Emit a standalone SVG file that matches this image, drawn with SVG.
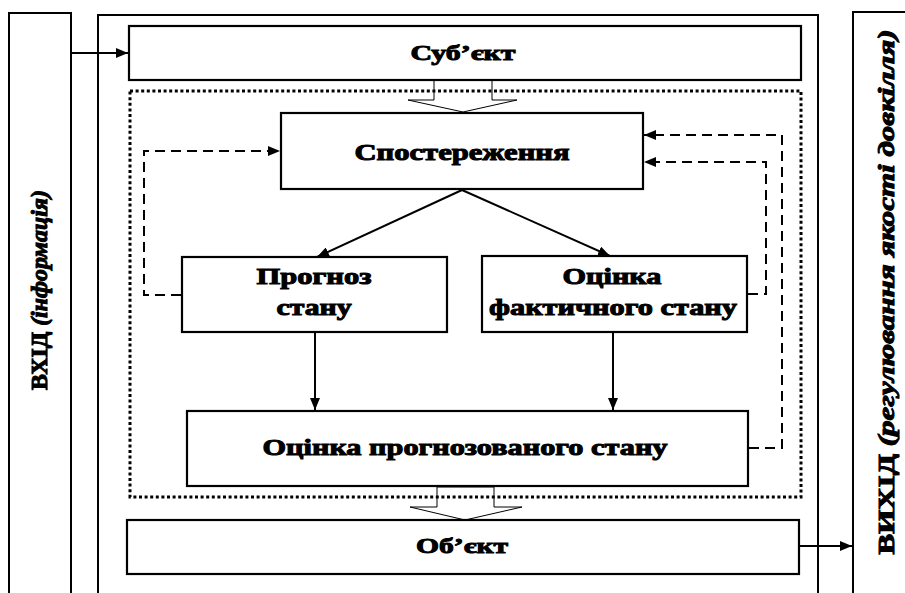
<svg xmlns="http://www.w3.org/2000/svg" width="905" height="593" viewBox="0 0 905 593">
<defs>
<style>
.box{fill:#fff;stroke:#000;stroke-width:2.2}
.frame{fill:none;stroke:#000;stroke-width:2}
.t{font-family:"Liberation Serif","Times New Roman",serif;font-weight:bold;fill:#000;stroke:#000;stroke-width:1;text-anchor:middle}
.it{font-style:italic}
.ln{fill:none;stroke:#000;stroke-width:2}
.dash{fill:none;stroke:#000;stroke-width:2;stroke-dasharray:10 6}
.dot{fill:none;stroke:#000;stroke-width:3;stroke-dasharray:3 2.6}
.hollow{fill:none;stroke:#000;stroke-width:1}
</style>
<marker id="ah" viewBox="0 0 12 10" refX="12" refY="5" markerWidth="12" markerHeight="10" markerUnits="userSpaceOnUse" orient="auto">
<path d="M0,0 L12,5 L0,10 Z" fill="#000"/>
</marker>
</defs>
<rect width="905" height="593" fill="#fff"/>

<g id="input">
<rect class="frame" x="9" y="13" width="62" height="600"/>
<text class="t" font-size="23" transform="translate(47,290) rotate(-90)" textLength="200" lengthAdjust="spacingAndGlyphs">ВХІД <tspan class="it">(інформація)</tspan></text>
</g>

<g id="system">
<rect class="frame" x="98" y="15" width="720" height="600"/>
</g>

<g id="output">
<rect class="frame" x="853" y="12" width="60" height="600"/>
<text class="t" font-size="23" transform="translate(894,292) rotate(-90)" textLength="525" lengthAdjust="spacingAndGlyphs">ВИХІД <tspan class="it">(регулювання якості довкілля)</tspan></text>
</g>

<g id="subject">
<rect class="box" x="129" y="26" width="672" height="54"/>
<text class="t" x="463" y="60" font-size="22" textLength="105" lengthAdjust="spacingAndGlyphs">Суб’єкт</text>
</g>

<g id="monitoring-area">
<rect class="dot" x="130" y="91" width="671" height="406"/>
</g>

<g id="observation">
<rect class="box" x="281" y="113" width="362" height="76"/>
<text class="t" x="462" y="160" font-size="23" textLength="215" lengthAdjust="spacingAndGlyphs">Спостереження</text>
</g>

<g id="forecast">
<rect class="box" x="182" y="257" width="265" height="75"/>
<text class="t" x="314" y="284" font-size="23" textLength="115" lengthAdjust="spacingAndGlyphs">Прогноз</text>
<text class="t" x="314" y="315" font-size="23" textLength="75" lengthAdjust="spacingAndGlyphs">стану</text>
</g>

<g id="actual">
<rect class="box" x="482" y="256" width="265" height="76"/>
<text class="t" x="612" y="284" font-size="23" textLength="99" lengthAdjust="spacingAndGlyphs">Оцінка</text>
<text class="t" x="613" y="315" font-size="23" textLength="248" lengthAdjust="spacingAndGlyphs">фактичного стану</text>
</g>

<g id="predicted">
<rect class="box" x="187" y="411" width="561" height="75"/>
<text class="t" x="465" y="455" font-size="23" textLength="405" lengthAdjust="spacingAndGlyphs">Оцінка прогнозованого стану</text>
</g>

<g id="object">
<rect class="box" x="127" y="520" width="672" height="54"/>
<text class="t" x="462" y="553" font-size="22" textLength="92" lengthAdjust="spacingAndGlyphs">Об’єкт</text>
</g>

<g id="connectors">
<line class="ln" x1="72" y1="53" x2="128" y2="53" marker-end="url(#ah)"/>
<line class="ln" x1="800" y1="546" x2="852" y2="546" marker-end="url(#ah)"/>
<polygon class="hollow" points="434,80 492,80 492,100 517,100 463,112 408,100 434,100"/>
<polygon class="hollow" points="437,487 494,487 494,507 522,507 465,520 410,507 437,507"/>
<line class="ln" x1="462" y1="190" x2="317" y2="257" marker-end="url(#ah)"/>
<line class="ln" x1="462" y1="190" x2="610" y2="256" marker-end="url(#ah)"/>
<line class="ln" x1="315" y1="333" x2="315" y2="410" marker-end="url(#ah)"/>
<line class="ln" x1="613" y1="333" x2="613" y2="410" marker-end="url(#ah)"/>
<polyline class="dash" points="181,295 144,295 144,151 280,151" marker-end="url(#ah)"/>
<polyline class="dash" points="748,294 766,294 766,162 644,162" marker-end="url(#ah)"/>
<polyline class="dash" points="749,448 782,448 782,135 644,135" marker-end="url(#ah)"/>
</g>
</svg>
